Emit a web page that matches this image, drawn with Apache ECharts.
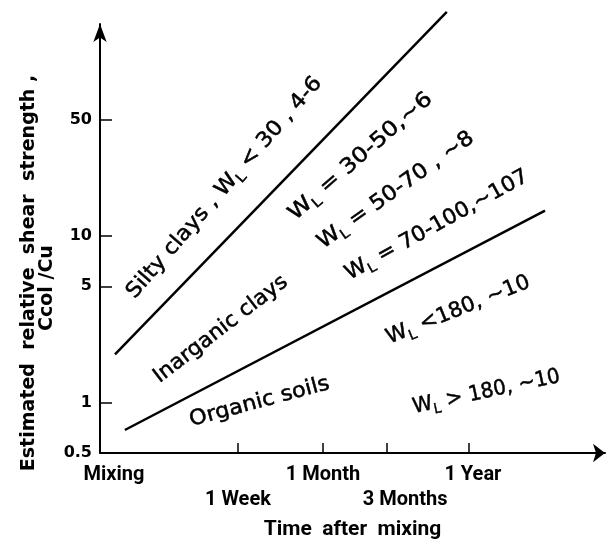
<!DOCTYPE html>
<html>
<head>
<meta charset="utf-8">
<script src="https://cdn.jsdelivr.net/npm/echarts@6/dist/echarts.min.js"></script>
<style>html,body{margin:0;padding:0;background:#fff}#c{width:612px;height:542px}</style>
</head>
<body>
<div id="c"></div>
<script>
// ---------------- data ----------------
const timeTickDays = [0.66, 7, 30, 90, 365];
const timeTickLabels = ['Mixing', '1 Week', '1 Month', '3 Months', '1 Year'];
const strengthTicks = [0.5, 1, 5, 10, 50];
const siltyClaysLine = [[0.853, 1.95], [250, 221]];
const organicSoilsLine = [[1.01, 0.687], [1343, 14.2]];
const xRange = [0.66, 3750];
const yRange = [0.5, 187];
const annotationTexts = [
  'Silty clays , W_L < 30 , 4-6',
  'W_L = 30-50,~6',
  'W_L = 50-70 , ~8',
  'W_L = 70-100,~107',
  'Inarganic clays',
  'W_L <180, ~10',
  'Organic soils',
  'W_L > 180, ~10'
];
const yTitleLines = ['Estimated  relative  shear  strength ,', 'Ccol /Cu'];
const xTitle = 'Time  after  mixing';

// ---------------- layout ----------------
const FONT = '"DejaVu Sans", sans-serif';
const XFONT = 'Roboto, "DejaVu Sans", sans-serif';
const annotationLayout = [
  {x: 226, y: 189, angle: 49, len: 286},
  {x: 362, y: 158, angle: 41, len: 183},
  {x: 397, y: 192, angle: 35.5, len: 187},
  {x: 438, y: 227, angle: 29, len: 206},
  {x: 222, y: 331, angle: 37.5, len: 163},
  {x: 459, y: 312, angle: 22, len: 153},
  {x: 260, y: 404, angle: 15, len: 144},
  {x: 487, y: 394, angle: 12, len: 150}
];
const ANN_SIZE = 21, SUB_SIZE = 14;
const mctx = document.createElement('canvas').getContext('2d');
function measure(t, size, weight) {
  mctx.font = (weight || 'normal') + ' ' + size + 'px "DejaVu Sans"';
  return mctx.measureText(t).width;
}
function richParts(str) {
  const parts = []; const re = /_(.)/g; let last = 0; let m;
  while ((m = re.exec(str))) {
    if (m.index > last) parts.push({t: str.slice(last, m.index), sub: false});
    parts.push({t: m[1], sub: true});
    last = re.lastIndex;
  }
  if (last < str.length) parts.push({t: str.slice(last), sub: false});
  return parts;
}
const annRich = {
  n: {fontSize: ANN_SIZE, fontFamily: FONT, fill: '#000', stroke: '#000', lineWidth: 0.5, lineHeight: 25, verticalAlign: 'top'},
  s: {fontSize: SUB_SIZE, fontFamily: FONT, fill: '#000', stroke: '#000', lineWidth: 0.4, lineHeight: 15, padding: [10, 0, 0, 0], verticalAlign: 'top'}
};
const graphics = annotationTexts.map(function (txt, i) {
  const L = annotationLayout[i];
  const parts = richParts(txt);
  const w = parts.reduce(function (a, p) { return a + measure(p.t, p.sub ? SUB_SIZE : ANN_SIZE); }, 0);
  return {
    type: 'text', x: L.x, y: L.y, rotation: L.angle * Math.PI / 180, scaleX: L.len / w, silent: true,
    style: {
      text: parts.map(function (p) { return '{' + (p.sub ? 's' : 'n') + '|' + p.t + '}'; }).join(''),
      align: 'center', verticalAlign: 'middle', rich: annRich
    }
  };
});
const yTitlePos = [{x: 29, y: 273}, {x: 47.5, y: 288}];
yTitleLines.forEach(function (t, i) {
  graphics.push({
    type: 'text', x: yTitlePos[i].x, y: yTitlePos[i].y, rotation: Math.PI / 2, silent: true,
    style: {text: t, fontFamily: FONT, fontSize: 19, fontWeight: 'bold', fill: '#000', align: 'center', verticalAlign: 'middle'}
  });
});

function nearestIndex(arr, v) {
  let best = 0, bd = Infinity;
  arr.forEach(function (a, i) { const d = Math.abs(Math.log(a) - Math.log(v)); if (d < bd) { bd = d; best = i; } });
  return best;
}
// which tick labels sit on the lower row, and horizontal nudges
const row2 = [false, true, false, true, false];
const labelNudge = ['mx', 'a', 'a', 'tm', 'yr'];
const xLabBase = {fontSize: 20, fontWeight: 'bold', fontFamily: XFONT, color: '#000', lineHeight: 20};
const xRich = {
  a: Object.assign({}, xLabBase),
  mx: Object.assign({padding: [0, 0, 0, 28]}, xLabBase),
  yr: Object.assign({padding: [0, 0, 0, 8]}, xLabBase),
  tm: Object.assign({padding: [0, 0, 0, 36]}, xLabBase)
};
const row1Values = timeTickDays.filter(function (d, i) { return !row2[i]; });
const row2Values = timeTickDays.filter(function (d, i) { return row2[i]; });
function xFormatter(v) {
  const i = nearestIndex(timeTickDays, v);
  return '{' + labelNudge[i] + '|' + timeTickLabels[i] + '}';
}

const chart = echarts.init(document.getElementById('c'), null, {renderer: 'canvas', width: 612, height: 542});
chart.setOption({
  animation: false,
  backgroundColor: '#fff',
  grid: {left: 100, right: 7, top: 24, bottom: 89, containLabel: false, outerBoundsMode: 'none'},
  xAxis: [{
    type: 'log', logBase: 10, min: xRange[0], max: xRange[1], position: 'bottom', offset: 0,
    axisLine: {show: true, symbol: ['none', 'arrow'], symbolSize: [14, 12], lineStyle: {color: '#000', width: 2}},
    axisTick: {show: true, inside: true, length: 10, customValues: timeTickDays.slice(1), lineStyle: {color: '#000', width: 1.5}},
    axisLabel: {
      show: true, customValues: row1Values, margin: 12, rich: xRich, showMinLabel: true, showMaxLabel: true,
      formatter: xFormatter
    },
    splitLine: {show: false}, minorTick: {show: false},
    name: xTitle, nameLocation: 'middle', nameGap: 66, nameMoveOverlap: false,
    nameTextStyle: {fontFamily: XFONT, fontSize: 21, fontWeight: 'bold', color: '#000'}
  }, {
    type: 'log', logBase: 10, min: xRange[0], max: xRange[1], position: 'bottom', offset: 0,
    axisLine: {show: false}, axisTick: {show: false}, splitLine: {show: false}, minorTick: {show: false},
    axisLabel: {
      show: true, customValues: row2Values, margin: 37, rich: xRich, showMinLabel: true, showMaxLabel: true,
      formatter: xFormatter
    }
  }],
  yAxis: {
    type: 'log', logBase: 10, min: yRange[0], max: yRange[1],
    axisLine: {show: true, symbol: ['none', 'arrow'], symbolSize: [10, 18], lineStyle: {color: '#000', width: 2}},
    axisTick: {show: true, inside: true, length: 12, customValues: strengthTicks.slice(1), lineStyle: {color: '#000', width: 1.5}},
    axisLabel: {
      show: true, customValues: strengthTicks, margin: 8, showMinLabel: true, showMaxLabel: true,
      fontFamily: FONT, fontSize: 16, fontWeight: 'bold', color: '#000',
      formatter: function (v) { return String(strengthTicks[nearestIndex(strengthTicks, v)]); }
    },
    splitLine: {show: false}, minorTick: {show: false}
  },
  series: [
    {type: 'line', name: 'Silty clays', data: siltyClaysLine, symbol: 'none', clip: false, silent: true,
     lineStyle: {color: '#000', width: 2.5}},
    {type: 'line', name: 'Organic soils', data: organicSoilsLine, symbol: 'none', clip: false, silent: true,
     lineStyle: {color: '#000', width: 2.5}}
  ],
  graphic: graphics
});
</script>
</body>
</html>
